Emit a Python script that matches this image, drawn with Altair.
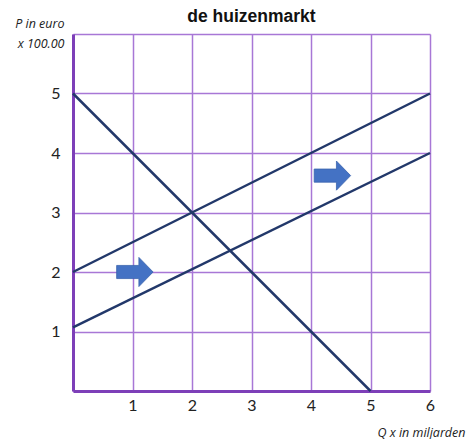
import altair as alt
import pandas as pd

# Line endpoints (Q, P)
series_names = ["vraag", "aanbod 1", "aanbod 2"]
q_start = [0, 0, 0]
p_start = [5, 2, 1.07]
q_end = [5, 6, 6]
p_end = [0, 5, 4.0]

# Shift arrows (centre positions)
arrow_q = [1.04, 4.36]
arrow_p = [2.0, 3.62]

rows = []
for n, qs, ps, qe, pe in zip(series_names, q_start, p_start, q_end, p_end):
    rows.append({"serie": n, "Q": qs, "P": ps, "o": 0})
    rows.append({"serie": n, "Q": qe, "P": pe, "o": 1})
lines_df = pd.DataFrame(rows)
arrows_df = pd.DataFrame({"Q": arrow_q, "P": arrow_p})

grid_col = "#a877d6"
dom_col = "#7d3fb8"
line_col = "#22386a"

x_scale = alt.Scale(domain=[0, 6], nice=False, zero=False)
y_scale = alt.Scale(domain=[0, 6], nice=False, zero=False)

x_axis = alt.Axis(
    values=[0, 1, 2, 3, 4, 5, 6], format="d",
    labelExpr="datum.value == 0 ? '' : datum.label",
    labelFlush=False, labelOverlap=False,
    title="Q x in miljarden",
    titleFont="Open Sans", titleFontStyle="italic", titleFontWeight="normal",
    titleFontSize=12.5, titleColor="#222222",
    titleAnchor="end", titleAlign="right", titleX=392, titleY=45, titleBaseline="alphabetic",
    labelFont="Lato", labelFontSize=16, labelColor="#222222", labelPadding=6,
    ticks=False, grid=True, gridColor=grid_col, gridWidth=1.5,
    domainColor=dom_col, domainWidth=3,
)
y_axis = alt.Axis(
    values=[0, 1, 2, 3, 4, 5, 6], format="d",
    labelExpr="datum.value == 0 || datum.value == 6 ? '' : datum.label",
    labelFlush=False, labelOverlap=False,
    title=["P in euro", "x 100.00"],
    titleFont="Open Sans", titleFontStyle="italic", titleFontWeight="normal",
    titleFontSize=12.5, titleColor="#222222", titleLineHeight=20,
    titleAngle=0, titleAlign="right", titleX=-9, titleY=-7, titleBaseline="alphabetic",
    labelFont="Lato", labelFontSize=16, labelColor="#222222", labelPadding=13,
    ticks=False, grid=True, gridColor=grid_col, gridWidth=1.5,
    domainColor=dom_col, domainWidth=3,
)

lines = alt.Chart(lines_df).mark_line(color=line_col, strokeWidth=2.5).encode(
    x=alt.X("Q:Q", scale=x_scale, axis=x_axis),
    y=alt.Y("P:Q", scale=y_scale, axis=y_axis),
    detail="serie:N",
    order="o:O",
)

arrow_path = "M-1,-0.36 L0.22,-0.36 L0.22,-0.8 L1,0 L0.22,0.8 L0.22,0.36 L-1,0.36 Z"
arrows = alt.Chart(arrows_df).mark_point(
    shape=arrow_path, size=1330, filled=True, fill="#4472c4",
    stroke="#3a63ad", strokeWidth=0.8, opacity=1,
).encode(
    x=alt.X("Q:Q", scale=x_scale),
    y=alt.Y("P:Q", scale=y_scale),
)

chart = alt.layer(lines, arrows).properties(
    width=357, height=357,
    title=alt.TitleParams("de huizenmarkt", font="Liberation Sans", fontSize=17.5,
                          fontWeight="bold", color="#111111", anchor="middle",
                          offset=-8),
    autosize=alt.AutoSizeParams(type="none"),
    padding={"left": 65, "top": 26, "right": 36, "bottom": 48},
).configure_view(stroke=None)

chart.save("out.html", embed_options={"renderer": "svg", "actions": False})
